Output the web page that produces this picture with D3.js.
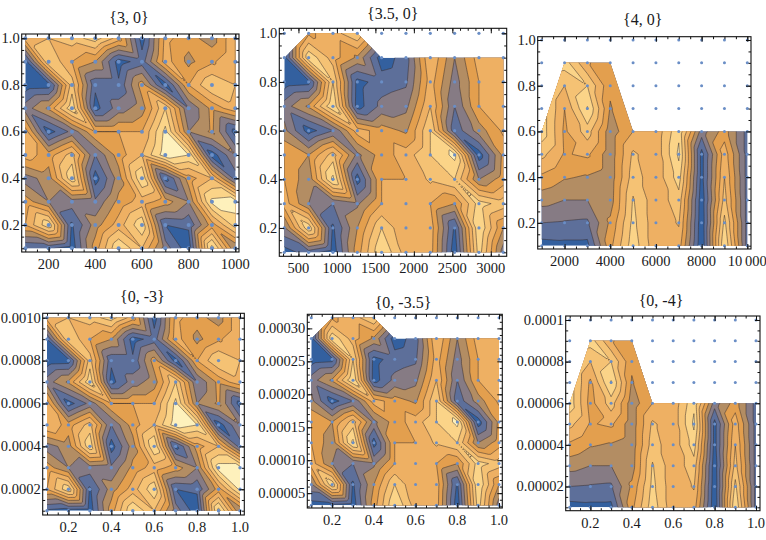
<!DOCTYPE html>
<html><head><meta charset="utf-8">
<style>html,body{margin:0;padding:0;background:#fff}svg{display:block}text{font-family:"Liberation Serif",serif;fill:#1a1a22}</style>
<script src="https://cdnjs.cloudflare.com/ajax/libs/d3/7.8.5/d3.min.js"></script>
</head><body><svg id="c" width="766" height="540"></svg>
<script>
const _ = null;
// band values per grid point, rows from y = max (top) to y = min (bottom)
const grid30 = [
[5.5,6,6.5,7.5,5.5,.5,5.3,4.4,3.5,6],
[.5,7,5,4,.5,1.5,5.5,3.7,4.8,6],
[.4,.5,6.5,1.2,1.2,4.5,.5,5,7,6],
[2.5,4.2,7.8,.6,2.5,3.5,7,2,4.3,5.7],
[5.5,.5,2.3,5,5,5,8.3,3,4.2,.5],
[5.5,4.5,6.5,2,4.5,6,8.6,8,.4,3],
[2.5,3.5,7.8,.5,3.5,8,.6,4.5,6,1.5],
[4.5,3,2.5,2.2,4.3,5.5,4.5,3,8.3,8.5],
[5,7.8,.8,3.5,5.5,7.8,1,1.2,4.5,7.5],
[1,1.2,.4,4.5,8,6,2.5,.3,8.5,3]];
const grid35 = [
[_,4.8,5.5,7,_,_,_,_,_,_],
[.5,7.8,5.5,3.8,.4,1.5,6,3,5.5,5.5],
[.4,.6,7,.6,1.5,1.8,5.5,2.5,5,5.5],
[2.5,4.2,8,.5,2.3,2.7,6,2,5,5.5],
[3.3,.5,2,5.5,4.5,3.8,7,1.3,3.5,5.2],
[5,4,6.5,2.7,4.5,5.5,7,8.3,.4,4.3],
[5,3.3,8.3,.5,5,5,6.2,7,3,4.5],
[5.5,3,2,2.8,5,5,5,4,7.5,6.5],
[2.8,7.8,.8,4,7,5,5.6,.8,8,4],
[.5,1.5,.4,4.5,8,5.5,5.5,.3,7.5,2.5]];
const grid40 = [
[_,_,_,_,_,_,_,_,_,_],
[_,7.5,5.1,4.4,_,_,_,_,_,_],
[_,6,7,4.2,_,_,_,_,_,_],
[_,5,8.1,3.9,_,_,_,_,_,_],
[7.6,4.8,6.5,3.4,5,5.3,7.8,2.5,4.5,1.6],
[6.3,4.9,5.2,3.4,6.2,5.3,8.2,.6,5.6,1.6],
[4.8,4.1,3.9,3.4,6.5,5.3,7.5,.6,6,1.6],
[3.4,3,3,3.5,7.1,5.3,6.6,.3,6.4,1.6],
[2,1.9,1.8,4.2,7.3,5.3,6.1,.2,7.3,1.6],
[.6,.7,.7,4.7,7.6,5.3,5.5,.1,8,1.6]];
const grid03 = [
[5.5,6,6.5,7.5,5.5,.5,5.3,4.4,3.5,6],
[1,7,5,4,.5,1.5,5.5,3.7,4.8,6],
[.4,.5,6.5,1.2,1.2,4.5,.5,5,7,6],
[2.5,4.2,7.8,.6,2.5,3.5,7,2,4.3,5.7],
[5.5,.5,2.3,5,5,5,8.3,3,4.2,.5],
[6,4.5,6.5,2,4.5,6,8.6,8,.4,3],
[2.5,3.5,7.8,.5,3.5,8,.6,4.5,6,1.5],
[4.5,3,2.5,2.2,4.3,5.5,4.5,3,8.5,8.5],
[5,7.8,.8,3.5,5.5,7.8,1,1.2,4.5,8.3],
[.8,.5,.4,4.5,8,6,2.5,.3,8.5,3]];
const grid035 = [
[_,4.8,5.5,7,_,_,_,_,_,_],
[.5,7.8,5.5,3.8,.4,1.5,6,3,5.5,5.5],
[.4,.6,7,.6,1.5,1.8,5.5,2.5,5,5.5],
[2.5,4.2,8,.5,2.3,2.7,6,2,5,5.5],
[3.3,.5,2,5.5,4.5,3.8,7,1.3,3.5,5.2],
[5,4,6.5,2.7,4.5,5.5,7,8.3,.4,4.3],
[5,3.3,8.3,.5,5,5,6.2,7,3,4.5],
[5.5,3,2,2.8,5,5,5,4,7.5,6.5],
[2.8,7.8,.8,4,7,5,5.6,.8,8,4],
[.5,.7,.4,4.5,8,5.5,5.5,.3,7.5,2.5]];
const grid04 = [
[_,_,_,_,_,_,_,_,_,_],
[_,7.5,5.1,4.4,_,_,_,_,_,_],
[_,6,7,4.2,_,_,_,_,_,_],
[_,4.8,8.1,3.9,_,_,_,_,_,_],
[7.6,4.6,6.5,3.4,5,5.3,7.8,2.5,4.5,1.6],
[6.3,4.9,5.2,3.4,6.2,5.3,8.2,.6,5.6,1.6],
[4.8,4.1,3.9,3.4,6.5,5.3,7.5,.6,6,1.6],
[3.4,3,3,3.5,7.1,5.3,6.6,.3,6.4,1.6],
[2,1.9,1.8,4.2,7.3,5.3,6.1,.2,7.3,1.6],
[.6,.7,.7,4.7,7.6,5.3,5.5,.1,8,1.6]];

const xs30 = [100,200,300,400,500,600,700,800,900,1000];
const xs35 = [316.2,632.5,948.7,1264.9,1581.1,1897.4,2213.6,2529.8,2846.0,3162.3];
const xs40 = [1000,2000,3000,4000,5000,6000,7000,8000,9000,10000];
const ys30 = [1,.9,.8,.7,.6,.5,.4,.3,.2,.1];
const xs0 = [.1,.2,.3,.4,.5,.6,.7,.8,.9,1];
const ys03 = [1e-3,9e-4,8e-4,7e-4,6e-4,5e-4,4e-4,3e-4,2e-4,1e-4];
const ys035 = [3.162e-4,2.846e-4,2.530e-4,2.214e-4,1.897e-4,1.581e-4,1.265e-4,9.49e-5,6.32e-5,3.16e-5];
const ys04 = [1e-4,9e-5,8e-5,7e-5,6e-5,5e-5,4e-5,3e-5,2e-5,1e-5];

const ticks1x = [200,400,600,800,1000], ticks1xMinor = d3.range(100,1001,50);
const ticks2x = [500,1000,1500,2000,2500,3000], ticks2xMinor = d3.range(300,3201,100);
const ticks3x = [2000,4000,6000,8000,10000], ticks3xMinor = d3.range(1000,10001,500);
const ticksU = [.2,.4,.6,.8,1], ticksUMinor = d3.range(1,21).map(d => d*.05);
const ticks4y = [2e-4,4e-4,6e-4,8e-4,1e-3], ticks4yMinor = d3.range(2,21).map(d => d*5e-5);
const ticks5y = [5e-5,1e-4,1.5e-4,2e-4,2.5e-4,3e-4], ticks5yMinor = d3.range(3,33).map(d => d*1e-5);
const ticks6y = [2e-5,4e-5,6e-5,8e-5,1e-4], ticks6yMinor = d3.range(2,21).map(d => d*5e-6);

const fmtInt = d => String(d);
const fmtTen = d => d === 10000 ? "10\u2009000" : String(d);
const fmt1 = d => d.toFixed(1);
const fmt4 = d => d.toFixed(4);
const fmt5 = d => d.toFixed(5);
const fmt6y = d => d >= 9.9e-5 ? "0.0001" : d.toFixed(5);

const thresholds = [1,2,3,4,5,6,7,8];
const bandColors = ["#33609f","#5d6f9a","#867b84","#b38d63","#e39f4e","#eeb063","#f5c274","#fbd488","#fef1bc"];
const lineColor = "rgba(55,45,45,.6)";
const dotColor = "#6a8ec6";

const panels = [
 {title:"{3, 0}",cx:129,ty:23,grid:grid30,xv:xs30,yv:ys30,f:[21.7,239,34,252],p:[25.3,235.3,38.3,248.3],xt:ticks1x,xm:ticks1xMinor,yt:ticksU,ym:ticksUMinor,xf:fmtInt,yf:fmt1,r:2},
 {title:"{3.5, 0}",cx:392.7,ty:19,grid:grid35,xv:xs35,yv:ys30,f:[279.3,506.7,28.3,256.3],p:[284.3,503.3,33.3,252.3],xt:ticks2x,xm:ticks2xMinor,yt:ticksU,ym:ticksUMinor,xf:fmtInt,yf:fmt1,r:1.6},
 {title:"{4, 0}",cx:642.7,ty:25,grid:grid40,xv:xs40,yv:ys30,f:[537.7,751,36.7,249],p:[541.7,747.3,40,245.7],xt:ticks3x,xm:ticks3xMinor,yt:ticksU,ym:ticksUMinor,xf:fmtTen,yf:fmt1,r:1.5},
 {title:"{0, -3}",cx:142.3,ty:302,grid:grid03,xv:xs0,yv:ys03,f:[42.7,244.3,313.3,515],p:[47,240,317.7,510.7],xt:ticksU,xm:ticksUMinor,yt:ticks4y,ym:ticks4yMinor,xf:fmt1,yf:fmt4,r:1.7},
 {title:"{0, -3.5}",cx:403,ty:308,grid:grid035,xv:xs0,yv:ys035,f:[307.3,502.3,314.3,508],p:[311.3,499,317.7,505.3],xt:ticksU,xm:ticksUMinor,yt:ticks5y,ym:ticks5yMinor,xf:fmt1,yf:fmt5,r:1.5},
 {title:"{0, -4}",cx:661,ty:306,grid:grid04,xv:xs0,yv:ys04,f:[565.7,760,316,510.7],p:[569.7,756,320,507.3],xt:ticksU,xm:ticksUMinor,yt:ticks6y,ym:ticks6yMinor,xf:fmt1,yf:fmt6y,r:1.5}
];

const svg = d3.select("#c");
const SUB = 10; // contour sampling per data cell, following the triangulated surface
panels.forEach((P,pi) => {
  const n = P.xv.length, m = P.yv.length;
  const x = d3.scaleLinear().domain([P.xv[0],P.xv[n-1]]).range([P.p[0],P.p[1]]);
  const y = d3.scaleLinear().domain([P.yv[m-1],P.yv[0]]).range([P.p[3],P.p[2]]);

  const tops = P.xv.map((xv,c) => { let r = 0; while (r < m-1 && P.grid[r][c] === null) r++; return r; });
  const poly = P.xv.map((xv,c) => [x(xv), y(P.yv[tops[c]])]);
  poly.push([x(P.xv[n-1]),y(P.yv[m-1])],[x(P.xv[0]),y(P.yv[m-1])]);
  const val = (r,c) => P.grid[Math.max(r,tops[c])][c];

  // surface made of two triangles per cell (diagonal from upper left to lower right)
  const N = (n-1)*SUB+1, M = (m-1)*SUB+1;
  const surf = new Array(N*M);
  for (let j=0;j<M;j++) for (let i=0;i<N;i++) {
    const c = Math.min(Math.floor(i/SUB),n-2), r = Math.min(Math.floor(j/SUB),m-2);
    const u = i/SUB-c, v = j/SUB-r;
    const a = val(r,c), b = val(r,c+1), d = val(r+1,c), e = val(r+1,c+1);
    surf[j*N+i] = u >= v ? a + u*(b-a) + v*(e-b) : a + v*(d-a) + u*(e-d);
  }
  const gx = d3.scaleLinear().domain([.5,N-.5]).range([x(P.xv[0]),x(P.xv[n-1])]);
  const gy = d3.scaleLinear().domain([.5,M-.5]).range([y(P.yv[0]),y(P.yv[m-1])]);

  const g = svg.append("g");
  const clipId = "clip"+pi;
  svg.append("defs").append("clipPath").attr("id",clipId).append("polygon").attr("points",poly.map(d=>d.join(",")).join(" "));
  const body = g.append("g").attr("clip-path",`url(#${clipId})`);
  body.append("polygon").attr("points",poly.map(d=>d.join(",")).join(" ")).attr("fill",bandColors[0]);
  const proj = d3.geoTransform({point(a,b){this.stream.point(gx(a),gy(b));}});
  const path = d3.geoPath(proj);
  const cs = d3.contours().size([N,M]).thresholds(thresholds)(surf);
  body.selectAll("path").data(cs).join("path")
    .attr("d",path).attr("fill",d => bandColors[thresholds.indexOf(d.value)+1])
    .attr("stroke",lineColor).attr("stroke-width",.85).attr("stroke-linejoin","round");

  const pts = d3.cross(P.xv,P.yv);
  g.append("g").selectAll("circle").data(pts).join("circle")
    .attr("cx",d=>x(d[0])).attr("cy",d=>y(d[1])).attr("r",P.r).attr("fill",dotColor);

  const [fl,fr,ft,fb] = P.f;
  const xa = d3.scaleLinear().domain([x.invert(fl),x.invert(fr)]).range([fl,fr]);
  const ya = d3.scaleLinear().domain([y.invert(fb),y.invert(ft)]).range([fb,ft]);
  const inX = v => xa(v) > fl+.5 && xa(v) < fr-.5, inY = v => ya(v) < fb-.5 && ya(v) > ft+.5;
  const ax = (gen,tv,len,tx,ty) => {
    const a = g.append("g").attr("transform",`translate(${tx},${ty})`)
      .call(gen.tickValues(tv).tickSize(len).tickSizeOuter(0).tickFormat(""));
    a.select(".domain").remove();
    a.selectAll("line").attr("stroke","#111").attr("stroke-width",1);
    a.selectAll("text").remove();
    return a;
  };
  const xm = P.xm.filter(inX), ym = P.ym.filter(inY), xt = P.xt.filter(inX), yt = P.yt.filter(inY);
  ax(d3.axisBottom(xa),xm,-2.5,0,fb); ax(d3.axisTop(xa),xm,-2.5,0,ft);
  ax(d3.axisLeft(ya),ym,-2.5,fl,0); ax(d3.axisRight(ya),ym,-2.5,fr,0);
  ax(d3.axisBottom(xa),xt,-5,0,fb); ax(d3.axisTop(xa),xt,-5,0,ft);
  ax(d3.axisLeft(ya),yt,-5,fl,0); ax(d3.axisRight(ya),yt,-5,fr,0);
  g.append("rect").attr("x",fl).attr("y",ft).attr("width",fr-fl).attr("height",fb-ft)
    .attr("fill","none").attr("stroke","#111").attr("stroke-width",1.1);

  g.append("g").selectAll("text").data(P.xt).join("text")
    .attr("x",d=>xa(d)).attr("y",fb+17).attr("text-anchor","middle").attr("font-size",14.5).text(P.xf);
  g.append("g").selectAll("text").data(P.yt).join("text")
    .attr("x",fl-2).attr("y",d=>ya(d)+4.8).attr("text-anchor","end").attr("font-size",14.5).text(P.yf);
  g.append("text").attr("x",P.cx).attr("y",P.ty).attr("text-anchor","middle").attr("font-size",16).text(P.title);
});
</script></body></html>
